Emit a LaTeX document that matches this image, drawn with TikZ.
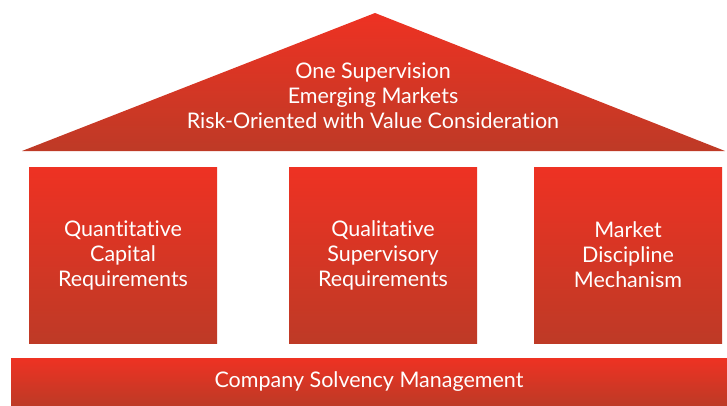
\documentclass[tikz,border=0pt]{standalone}
\usepackage{fontspec}
\setmainfont[Ligatures={NoCommon,NoRequired,NoContextual}]{Lato}
\definecolor{redtop}{RGB}{238,50,35}
\definecolor{redbot}{RGB}{190,58,38}
\begin{document}
\begin{tikzpicture}[x=1pt,y=1pt,
  redfill/.style={top color=redtop,bottom color=redbot,draw=none},
  txt/.style={text=white,align=center,font=\fontsize{21.5}{25}\selectfont},
  pillar/.style={redfill,txt,rectangle,minimum width=188pt,minimum height=176pt,inner sep=0pt}]
\useasboundingbox (0,0) rectangle (727,405);
\coordinate (apex) at (375,392);
\coordinate (bl) at (22,254);
\coordinate (br) at (725,254);
\shade[top color=redtop,bottom color=redbot] (apex) -- (br) -- (bl) -- cycle;
\node[txt] (roof) at (373,309.5) {One Supervision\\Emerging Markets\\Risk-Oriented with Value Consideration};
\node[pillar] (p1) at (123,150) {Quantitative\\Capital\\Requirements};
\node[pillar] (p2) at (383,150) {Qualitative\\Supervisory\\Requirements};
\node[pillar] (p3) at (628,150) {Market\\Discipline\\Mechanism};
\node[redfill,txt,rectangle,minimum width=716pt,minimum height=47pt,inner sep=0pt] (base) at (369,23.5) {Company Solvency Management};
\end{tikzpicture}
\end{document}
